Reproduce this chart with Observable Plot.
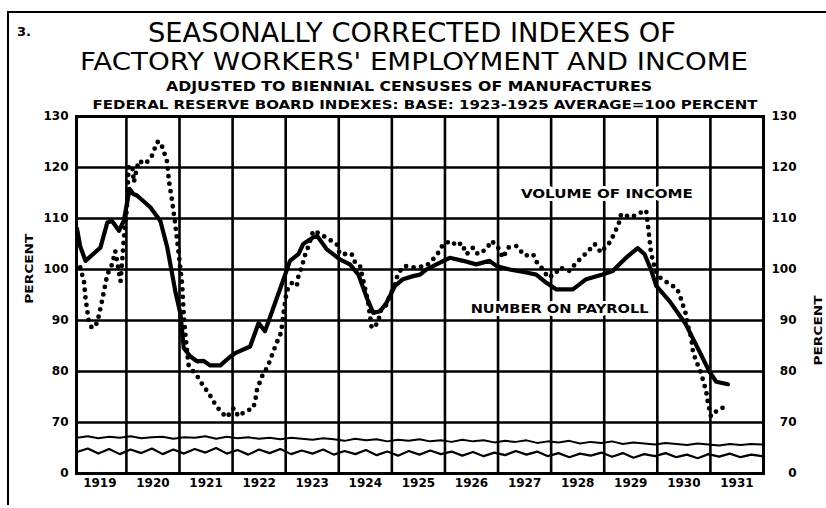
<!DOCTYPE html>
<html><head><meta charset="utf-8">
<script src="https://cdn.jsdelivr.net/npm/d3@7"></script>
<script src="https://cdn.jsdelivr.net/npm/@observablehq/plot@0.6"></script>
<style>
html,body{margin:0;padding:0;background:#fff;}
#wrap{position:relative;width:826px;height:508px;overflow:hidden;background:#fff;}
#chart{position:absolute;left:0;top:0;}
#titles{position:absolute;left:0;top:0;}
#border{position:absolute;left:7px;top:11px;width:840px;height:494px;border-left:2.5px solid #000;border-top:2.5px solid #000;box-sizing:border-box;}
</style></head><body>
<div id="wrap"><div id="chart"></div><svg id="titles" width="826" height="116"></svg><div id="border"></div></div>
<script>
// ---- Data ----
const payrollDates = [1919.07,1919.13,1919.23,1919.51,1919.64,1919.73,1919.86,1919.95,1920.06,1920.13,1920.20,1920.45,1920.64,1920.77,1920.92,1921.02,1921.08,1921.20,1921.33,1921.45,1921.58,1921.77,1921.92,1922.05,1922.33,1922.49,1922.61,1922.96,1923.08,1923.24,1923.33,1923.52,1923.59,1923.77,1924.02,1924.21,1924.37,1924.53,1924.65,1924.78,1924.90,1925.06,1925.21,1925.40,1925.53,1925.65,1925.84,1926.09,1926.34,1926.59,1926.84,1926.97,1927.22,1927.53,1927.72,1927.91,1928.10,1928.41,1928.66,1928.97,1929.16,1929.41,1929.63,1929.76,1929.89,1929.98,1930.23,1930.54,1930.79,1930.98,1931.11,1931.33];
const payrollValues = [108.0,104.5,101.7,104.3,109.2,109.5,107.6,109.5,115.8,114.8,114.5,112.2,109.5,104.3,95.8,91.2,84.6,83.0,82.0,82.1,81.2,81.2,82.6,83.6,84.9,89.5,87.9,98.1,101.7,103.0,105.0,106.3,106.6,104.0,102.0,101.0,99.0,94.4,91.5,91.8,93.5,96.8,98.1,98.7,99.0,100.0,101.0,102.3,101.7,101.0,101.7,100.7,100.0,99.4,99.0,97.4,96.1,96.1,98.1,99.0,99.7,102.3,104.2,103.0,99.7,96.8,93.8,89.2,84.0,80.0,78.0,77.5];

const incomeDates = [1919.13,1919.20,1919.23,1919.29,1919.35,1919.45,1919.54,1919.64,1919.73,1919.79,1919.89,1919.95,1920.01,1920.04,1920.11,1920.14,1920.23,1920.36,1920.48,1920.58,1920.64,1920.70,1920.77,1920.80,1920.86,1920.92,1920.98,1921.05,1921.08,1921.11,1921.17,1921.26,1921.36,1921.45,1921.55,1921.64,1921.77,1921.89,1922.02,1922.11,1922.24,1922.39,1922.43,1922.46,1922.52,1922.58,1922.65,1922.71,1922.77,1922.83,1922.90,1922.93,1922.96,1923.02,1923.12,1923.21,1923.24,1923.30,1923.37,1923.43,1923.52,1923.65,1923.80,1923.96,1924.02,1924.24,1924.31,1924.40,1924.49,1924.55,1924.62,1924.74,1924.78,1924.90,1924.96,1925.06,1925.12,1925.25,1925.40,1925.46,1925.65,1925.84,1925.97,1926.12,1926.22,1926.31,1926.41,1926.53,1926.62,1926.78,1926.88,1927.00,1927.09,1927.19,1927.35,1927.50,1927.66,1927.75,1927.85,1927.94,1928.07,1928.16,1928.35,1928.47,1928.57,1928.69,1928.82,1928.94,1929.04,1929.13,1929.19,1929.26,1929.32,1929.51,1929.63,1929.79,1929.82,1929.85,1929.88,1929.95,1930.01,1930.10,1930.23,1930.36,1930.42,1930.48,1930.54,1930.57,1930.64,1930.67,1930.73,1930.79,1930.85,1930.92,1930.95,1931.01,1931.11,1931.20,1931.30];
const incomeValues = [100.4,97.7,94.4,89.9,88.5,89.5,93.8,99.0,101.0,103.6,97.7,105.6,112.2,120.0,120.4,117.1,121.3,120.7,122.3,125.0,125.0,123.3,121.0,117.4,113.5,108.9,103.6,97.1,91.2,87.3,81.3,80.0,78.7,77.1,75.8,74.1,72.2,71.0,72.8,71.2,72.2,72.8,74.5,76.4,78.1,79.7,80.7,82.3,84.0,85.6,87.3,88.9,91.5,95.8,97.4,96.8,98.7,100.4,103.0,104.6,107.6,107.0,106.0,105.0,103.0,103.1,101.3,100.7,96.5,93.8,88.5,89.5,91.8,93.1,94.8,97.1,99.4,100.7,100.4,100.4,100.7,102.7,105.0,105.6,104.6,105.2,103.0,104.3,103.0,104.0,105.6,104.3,102.3,104.3,104.6,102.7,103.0,101.0,100.0,98.4,99.0,100.4,99.7,101.3,102.3,103.5,105.0,103.3,104.6,105.6,107.2,108.5,110.9,110.2,110.9,111.6,108.9,106.3,103.3,100.4,98.7,98.1,97.1,96.4,95.1,93.1,91.2,89.2,86.6,84.0,82.0,80.7,78.7,76.1,74.1,71.2,72.2,72.8,73.1];

// scale-break squiggles (two wavy lines between 0 and 70)
const breakUpper = [67.0,67.3,66.9,67.2,67.0,67.3,66.9,67.1,67.2,66.8,67.1,67.0,67.3,66.8,67.2,66.9,67.1,66.8,67.0,66.7,67.0,66.8,66.6,66.9,66.7,66.4,66.8,66.5,66.7,66.3,66.6,66.4,66.7,66.3,66.5,66.2,66.6,66.3,66.5,66.1,66.4,66.2,66.5,66.0,66.3,66.1,66.4,65.9,66.2,66.0,66.3,65.8,66.1,65.9,65.7,66.0,65.8,65.6,65.9,65.7,65.5,65.8,65.6,65.8,65.7];
const breakLower = [64.2,64.9,63.9,64.8,63.8,64.7,64.0,64.9,63.8,64.7,63.9,64.8,64.1,65.0,63.9,64.6,63.7,64.7,64.0,64.8,63.8,64.5,63.9,64.7,63.7,64.4,63.8,64.6,63.6,64.3,63.5,64.4,63.7,64.5,63.8,64.3,63.5,64.2,63.4,64.1,63.6,64.4,63.7,64.3,63.4,64.0,63.2,63.9,63.5,64.1,63.3,64.0,63.1,63.8,63.4,64.0,63.2,63.7,63.0,63.8,63.3,63.9,63.2,63.7,63.4];

const yTickValues = [130,120,110,100,90,80,70,60];
const yTickLabels = ["130","120","110","100","90","80","70","0"];
const gridValues = [70,80,90,100,110,120];
const yearLines = [1920,1921,1922,1923,1924,1925,1926,1927,1928,1929,1930,1931];
const yearLabels = [1919,1920,1921,1922,1923,1924,1925,1926,1927,1928,1929,1930,1931];

const seriesLabels = ["VOLUME OF INCOME","NUMBER ON PAYROLL"];
const seriesLabelX = [1929.05,1928.16];
const seriesLabelY = [114.9,92.3];

const titleLines = ["SEASONALLY CORRECTED INDEXES OF","FACTORY WORKERS' EMPLOYMENT AND INCOME","ADJUSTED TO BIENNIAL CENSUSES OF MANUFACTURES","FEDERAL RESERVE BOARD INDEXES: BASE: 1923-1925 AVERAGE=100 PERCENT"];
const figureNumber = "3.";
const axisTitle = "PERCENT";

// ---- Build tables ----
const payroll = payrollDates.map((t,i)=>({t, v: payrollValues[i]}));
const income = incomeDates.map((t,i)=>({t, v: incomeValues[i]}));
const x0 = 1919.07, x1 = 1931.97;
const breakU = breakUpper.map((v,i)=>({t: x0 + i*(x1-x0)/(breakUpper.length-1), v}));
const breakL = breakLower.map((v,i)=>({t: x0 + i*(x1-x0)/(breakLower.length-1), v}));
const yTicks = yTickValues.map((v,i)=>({v, label: yTickLabels[i]}));
const labels = seriesLabels.map((s,i)=>({s, t: seriesLabelX[i], v: seriesLabelY[i]}));

const FONT = "DejaVu Sans";
const tickStyle = {fontFamily: FONT, fontWeight: "bold", fontSize: 12, fill: "black"};

const chart = Plot.plot({
  width: 826, height: 508,
  marginLeft: 76, marginRight: 63, marginTop: 116, marginBottom: 35,
  x: {domain: [1919.06, 1932.0], axis: null},
  y: {domain: [60, 130], axis: null},
  style: {background: "white", overflow: "visible"},
  marks: [
    Plot.ruleX(yearLines, {x: d=>d, stroke: "black", strokeWidth: 2.6}),
    Plot.ruleY(gridValues, {y: d=>d, stroke: "black", strokeWidth: 2.6}),
    Plot.line(breakU, {x: "t", y: "v", stroke: "black", strokeWidth: 2}),
    Plot.line(breakL, {x: "t", y: "v", stroke: "black", strokeWidth: 2.2}),
    Plot.frame({stroke: "black", strokeWidth: 3}),
    Plot.line(income, {x: "t", y: "v", stroke: "black", strokeWidth: 4.8, strokeLinecap: "round", strokeDasharray: "0 7.6"}),
    Plot.line(payroll, {x: "t", y: "v", stroke: "black", strokeWidth: 4.2, strokeLinejoin: "round", strokeLinecap: "round"}),
    Plot.text(labels, {x: "t", y: "v", text: "s", fontFamily: FONT, fontWeight: "bold", fontSize: 13, fill: "black", stroke: "white", strokeWidth: 6}),
    Plot.text(yTicks, {y: "v", text: "label", frameAnchor: "left", textAnchor: "end", dx: -8, ...tickStyle}),
    Plot.text(yTicks, {y: "v", text: "label", frameAnchor: "right", textAnchor: "end", dx: 33, ...tickStyle}),
    Plot.text(yearLabels, {x: d=>d+0.5, text: d=>String(d), frameAnchor: "bottom", dy: 13, ...tickStyle}),
    Plot.text([axisTitle], {frameAnchor: "left", y: 93.3, dx: -47, rotate: -90, text: d=>d, ...tickStyle, fontSize: 11}),
    Plot.text([axisTitle], {frameAnchor: "right", y: 94.9, dx: 55, rotate: -90, text: d=>d, ...tickStyle, fontSize: 11})
  ]
});
document.getElementById("chart").appendChild(chart);

// stretch lettering to the widths of the original stencil text
const fitLengths = {"VOLUME OF INCOME": 172, "NUMBER ON PAYROLL": 178, "PERCENT": 70};
d3.select(chart).selectAll("text").each(function(){
  const s = this.textContent;
  if (fitLengths[s]) { this.setAttribute("textLength", fitLengths[s]); this.setAttribute("lengthAdjust", "spacingAndGlyphs"); }
});

// ---- Titles ----
const tsvg = d3.select("#titles");
const titleSpecs = [
  {x: 412, y: 42, size: 26, weight: "normal", len: 528},
  {x: 414, y: 70, size: 24, weight: "normal", len: 668},
  {x: 409, y: 91, size: 14, weight: "bold", len: 486},
  {x: 425, y: 109, size: 13, weight: "bold", len: 665}
];
titleLines.forEach((s,i)=>{
  const sp = titleSpecs[i];
  tsvg.append("text").attr("x", sp.x).attr("y", sp.y).attr("text-anchor","middle")
    .attr("font-family", FONT).attr("font-size", sp.size).attr("font-weight", sp.weight)
    .attr("textLength", sp.len).attr("lengthAdjust","spacingAndGlyphs").text(s);
});
tsvg.append("text").attr("x", 17).attr("y", 36).attr("font-family", FONT).attr("font-size", 13).attr("font-weight","bold").text(figureNumber);
</script>
</body></html>
